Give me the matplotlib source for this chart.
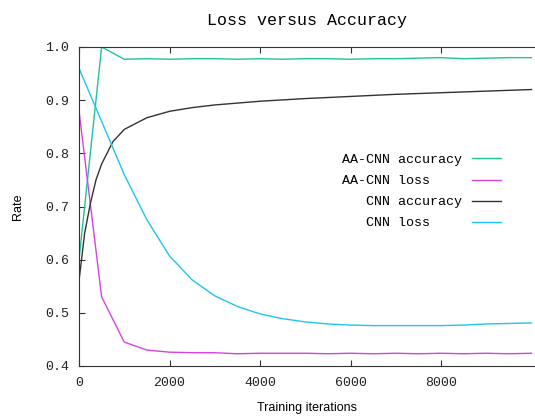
import matplotlib.pyplot as plt
import numpy as np

# Iteraciones de entrenamiento (cada 500)
iters = np.arange(0, 10001, 500)

aa_acc = [0.600, 1.000, 0.977, 0.978, 0.977, 0.978, 0.978, 0.977, 0.978, 0.977, 0.978,
          0.978, 0.977, 0.978, 0.978, 0.979, 0.980, 0.978, 0.979, 0.980, 0.980]
aa_loss = [0.880, 0.530, 0.445, 0.430, 0.426, 0.425, 0.425, 0.423, 0.424, 0.424, 0.424,
           0.423, 0.424, 0.423, 0.424, 0.423, 0.424, 0.423, 0.424, 0.423, 0.424]
cnn_loss = [0.960, 0.860, 0.760, 0.675, 0.607, 0.562, 0.532, 0.512, 0.498, 0.489, 0.483,
            0.479, 0.477, 0.476, 0.476, 0.476, 0.476, 0.477, 0.479, 0.480, 0.481]

# CNN accuracy, muestreada mas fino al principio
cnn_iters = [0, 125, 250, 375, 500, 750, 1000, 1500, 2000, 2500, 3000, 4000, 5000, 6000,
             7000, 8000, 9000, 10000]
cnn_acc = [0.560, 0.650, 0.705, 0.750, 0.780, 0.822, 0.845, 0.867, 0.879, 0.886, 0.891,
           0.898, 0.903, 0.907, 0.911, 0.914, 0.917, 0.920]

labels = ["AA-CNN accuracy", "AA-CNN loss    ", "   CNN accuracy", "   CNN loss    "]
colors = ["#22c39a", "#d444e0", "#333333", "#22c4ee"]

mono = "Liberation Mono"

fig = plt.figure(figsize=(5.35, 4.17), dpi=100)
ax = fig.add_axes([79/535, 1 - 366/417, 1 - 79/535, (366 - 47)/417])

ax.plot(iters, aa_acc, color=colors[0], lw=1, label=labels[0])
ax.plot(iters, aa_loss, color=colors[1], lw=1, label=labels[1])
ax.plot(cnn_iters, cnn_acc, color=colors[2], lw=1, label=labels[2])
ax.plot(iters, cnn_loss, color=colors[3], lw=1, label=labels[3])

ax.set_xlim(0, (535 - 79) / 90.5 * 2000)
ax.set_ylim(0.4, 1.0)
ax.set_xticks([0, 2000, 4000, 6000, 8000])
ax.set_yticks([0.4, 0.5, 0.6, 0.7, 0.8, 0.9, 1.0])
ax.set_yticklabels(["0.4", "0.5", "0.6", "0.7", "0.8", "0.9", "1.0"])
ax.tick_params(direction="in", top=True, length=4, width=0.8, colors="#333333",
               labelcolor="#222222", labelsize=9.5)
ax.tick_params(axis="y", pad=7)
ax.tick_params(axis="x", pad=8)
for lab in ax.get_xticklabels() + ax.get_yticklabels():
    lab.set_family(mono)
ax.spines["right"].set_visible(False)
for s in ["left", "bottom", "top"]:
    ax.spines[s].set_color("#333333")

ax.set_xlabel("Training iterations", fontsize=9, family="Liberation Sans", labelpad=9)
ax.set_ylabel("Rate", fontsize=9, family="Liberation Sans", labelpad=15)
ax.set_title("Loss versus Accuracy", fontsize=12, family=mono, pad=16)

leg = ax.legend(loc="upper right", bbox_to_anchor=(0.952, 0.703), frameon=False,
                markerfirst=False, prop={"family": mono, "size": 9.6},
                handlelength=2.2, handletextpad=0.7, labelspacing=0.66)

plt.savefig("out.png", dpi=100)
